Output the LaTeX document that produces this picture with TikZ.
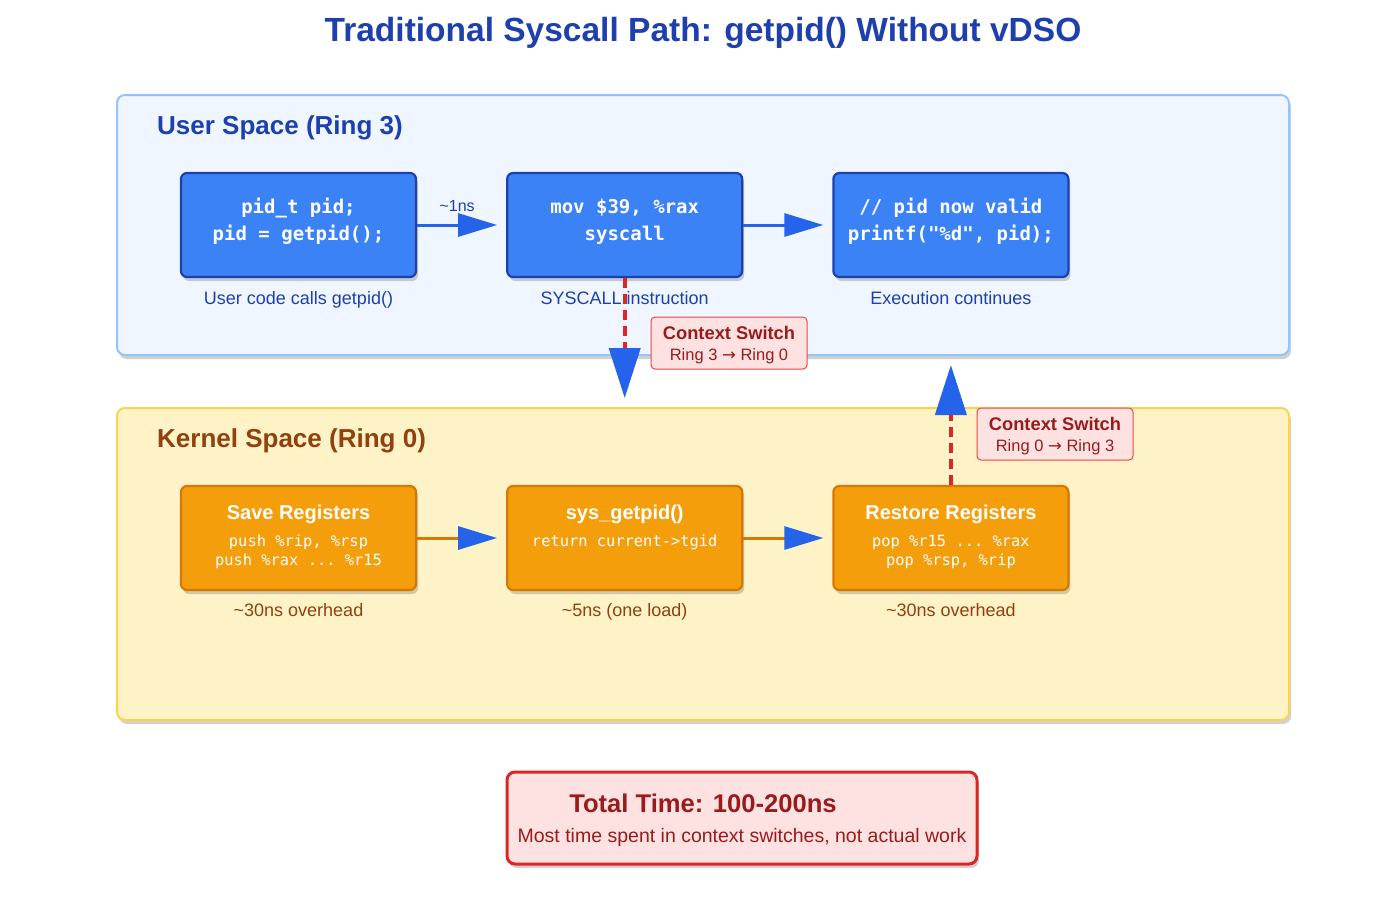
\documentclass[tikz,border=0pt]{standalone}
\usepackage{fontspec}
\setmainfont{Liberation Sans}
\setmonofont{DejaVu Sans Mono}
\newfontfamily\arrowfont{DejaVu Sans}
\usetikzlibrary{positioning,arrows.meta,shadows}
\definecolor{cTitle}{HTML}{1E40AF}
\definecolor{cUserBg}{HTML}{EFF6FF}
\definecolor{cUserLn}{HTML}{93C5FD}
\definecolor{cKernBg}{HTML}{FEF3C7}
\definecolor{cKernLn}{HTML}{FCD34D}
\definecolor{cKernTx}{HTML}{92400E}
\definecolor{cBlue}{HTML}{3B82F6}
\definecolor{cBlueDk}{HTML}{1E40AF}
\definecolor{cOrange}{HTML}{F59E0B}
\definecolor{cOrangeDk}{HTML}{D97706}
\definecolor{cArrow}{HTML}{2563EB}
\definecolor{cRed}{HTML}{DC2626}
\definecolor{cPink}{HTML}{FEE2E2}
\definecolor{cPinkLn}{HTML}{EF4444}
\definecolor{cRedTx}{HTML}{991B1B}
\newcommand{\fs}[2]{\fontsize{#1}{#2}\selectfont}
\newcommand{\ra}{{\arrowfont →}}
\tikzset{
  shade/.style={drop shadow={shadow xshift=2pt,shadow yshift=-4pt,opacity=0.18,fill=black}},
  space/.style={rounded corners=8pt,line width=2pt,shade},
  box/.style={rounded corners=6pt,line width=2.2pt,align=center,text=white,
    minimum width=235pt,minimum height=104pt,inner sep=0pt,shade},
  ubox/.style={box,fill=cBlue,draw=cBlueDk,font=\ttfamily\bfseries\fs{19}{27},
    text height=37pt,text depth=7pt},
  kbox/.style={box,fill=cOrange,draw=cOrangeDk,font=\ttfamily\fs{15.4}{19},
    text height=57pt,text depth=3pt},
  ucap/.style={font=\fs{18}{21},text=cTitle,inner sep=0pt},
  kcap/.style={font=\fs{18}{21},text=cKernTx,inner sep=0pt},
  ctxbox/.style={rounded corners=4pt,fill=cPink,draw=cPinkLn,line width=1pt,
    minimum width=156pt,minimum height=52pt,align=center,text=cRedTx,inner sep=0pt,
    font=\fs{16.5}{21},text height=40pt,text depth=6pt},
  arr/.style={line width=3pt,draw=cArrow,-{Triangle[length=39pt,width=23pt]}},
  karr/.style={line width=3pt,draw=cOrangeDk,-{Triangle[length=39pt,width=23pt,color=cArrow]}},
  ctx/.style={line width=4pt,draw=cRed,dash pattern=on 10pt off 6pt,
    -{Triangle[length=50pt,width=31pt,color=cArrow]}}}

\begin{document}
\begin{tikzpicture}[x=1pt,y=-1pt,node distance=89pt]
\useasboundingbox[fill=white] (0,0) rectangle (1382,897);
\node[font=\bfseries\fs{33.5}{38},text=cTitle] (title) at (703,33)
  {Traditional Syscall Path: getpid() Without vDSO};
% user space
\draw[space,fill=cUserBg,draw=cUserLn] (117,95) rectangle (1289,355);
\node[anchor=west,font=\bfseries\fs{26}{30},text=cTitle,inner sep=0pt] (utitle) at (157,128)
  {User Space (Ring 3)};
\node[ubox] (call) at (298.5,225) {pid\_t pid;\\pid = getpid();};
\node[ubox, right=of call] (sysc) {mov \$39, \%rax\\syscall};
\node[ubox, right=of sysc] (cont) {// pid now valid\\printf("\%d", pid);};
\node[ucap, below=13pt of call] (callcap) {User code calls getpid()};
\node[ucap, below=13pt of sysc] (syscap) {SYSCALL instruction};
\node[ucap, below=13pt of cont] (contcap) {Execution continues};
% kernel space
\draw[space,fill=cKernBg,draw=cKernLn] (117,408) rectangle (1289,720);
\node[anchor=west,font=\bfseries\fs{26}{30},text=cKernTx,inner sep=0pt] (ktitle) at (157,441)
  {Kernel Space (Ring 0)};
\node[kbox] (save) at (298.5,538)
  {{\rmfamily\bfseries\fs{20}{27}Save Registers}\\[8pt]push \%rip, \%rsp\\push \%rax ... \%r15};
\node[kbox, right=of save, text height=37pt, text depth=21pt] (sysget)
  {{\rmfamily\bfseries\fs{20}{27}sys\_getpid()}\\[8pt]return current->tgid};
\node[kbox, right=of sysget] (rest)
  {{\rmfamily\bfseries\fs{20}{27}Restore Registers}\\[8pt]pop \%r15 ... \%rax\\pop \%rsp, \%rip};
\node[kcap, below=12pt of save] (savecap) {\textasciitilde 30ns overhead};
\node[kcap, below=12pt of sysget] (getcap) {\textasciitilde 5ns (one load)};
\node[kcap, below=12pt of rest] (restcap) {\textasciitilde 30ns overhead};
% arrows
\draw[arr] (call.east) -- ([xshift=-9pt]sysc.west) node[midway,above=9pt,font=\fs{16}{18},text=cTitle] (lat) {\textasciitilde 1ns};
\draw[arr] (sysc.east) -- ([xshift=-9pt]cont.west);
\draw[karr] (save.east) -- ([xshift=-9pt]sysget.west);
\draw[karr] (sysget.east) -- ([xshift=-9pt]rest.west);
% context switches
\coordinate (down) at (625,398);
\coordinate (up) at (950,365);
\draw[ctx] (sysc.south) -- (sysc.south |- down);
\draw[ctx] (rest.north) -- (rest.north |- up);
\node[ctxbox] (ctx1) at (729,343) {{\bfseries\fs{18.3}{21}Context Switch}\\Ring 3 \ra{} Ring 0};
\node[ctxbox] (ctx2) at (1055,434) {{\bfseries\fs{18.3}{21}Context Switch}\\Ring 0 \ra{} Ring 3};
% total
\node[rounded corners=8pt,fill=cPink,draw=cRed,line width=3pt,minimum width=470pt,
  minimum height=92pt,shade] (total) at (742,818) {};
\node[font=\bfseries\fs{25.6}{30},text=cRedTx] (ttime) at (703,803) {Total Time: 100-200ns};
\node[font=\fs{19.5}{23},text=cRedTx] (tnote) at (742,837) {Most time spent in context switches, not actual work};
\end{tikzpicture}
\end{document}
